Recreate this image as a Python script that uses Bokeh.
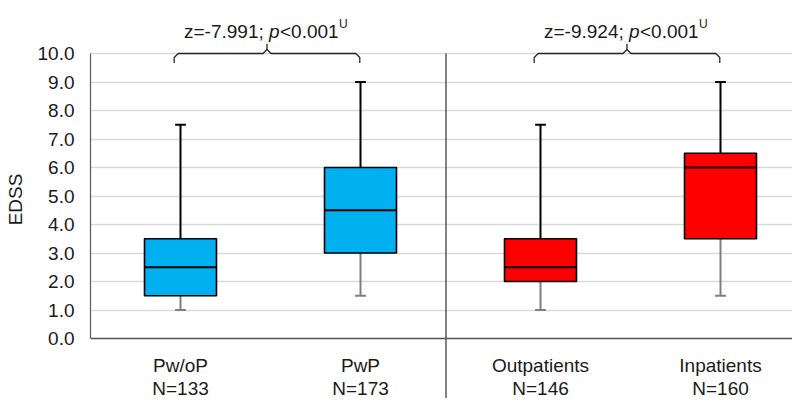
from bokeh.plotting import figure
from bokeh.models import Range1d, FixedTicker, NumeralTickFormatter, Span, ColumnDataSource
from bokeh.core.properties import value
from bokeh.embed import file_html
from bokeh.resources import INLINE

# ---------------- data ----------------
groups = ["Pw/oP", "PwP", "Outpatients", "Inpatients"]
n_labels = ["N=133", "N=173", "N=146", "N=160"]
mins = [1.0, 1.5, 1.0, 1.5]
q1 = [1.5, 3.0, 2.0, 3.5]
medians = [2.5, 4.5, 2.5, 6.0]
q3 = [3.5, 6.0, 3.5, 6.5]
maxs = [7.5, 9.0, 7.5, 9.0]
box_colors = ["#00B0F0", "#00B0F0", "#FF0000", "#FF0000"]
z_texts = ["z=-7.991; ", "z=-9.924; "]
p_letter = "p"
p_values = ["<0.001", "<0.001"]
test_marks = ["U", "U"]
pairs = [(0, 1), (2, 3)]
y_ticks = [0, 1, 2, 3, 4, 5, 6, 7, 8, 9, 10]
y_label = "EDSS"

FONT = "Liberation Sans"
FS = "19px"
TXT = "#1a1a1a"

xs = [i + 1 for i in range(len(groups))]

PXY = 28.5  # px per y unit (style)
p = figure(width=792, height=398, output_backend="svg", toolbar_location=None,
           x_range=Range1d(0.5, 4.4), y_range=Range1d(-(398 - 338) / PXY, 10 + 53 / PXY),
           min_border_left=90, min_border_right=0, min_border_top=0, min_border_bottom=0,
           x_axis_type=None)
p.outline_line_color = None
p.background_fill_color = "white"
p.border_fill_color = "white"

# y axis
ya = p.yaxis[0]
ya.ticker = FixedTicker(ticks=y_ticks)
ya.formatter = NumeralTickFormatter(format="0.0")
ya.bounds = (min(y_ticks), max(y_ticks))
ya.axis_line_color = "#595959"
ya.axis_line_width = 1.2
ya.major_tick_line_color = None
ya.minor_tick_line_color = None
ya.major_tick_out = 0
ya.major_tick_in = 0
ya.major_label_standoff = 16
ya.major_label_text_font = FONT
ya.major_label_text_font_size = FS
ya.major_label_text_color = TXT
ya.axis_label = y_label
ya.axis_label_text_font = FONT
ya.axis_label_text_font_size = FS
ya.axis_label_text_font_style = "normal"
ya.axis_label_text_color = TXT
ya.axis_label_standoff = 9

p.xgrid.visible = False
p.ygrid.grid_line_color = "#d9d9d9"
p.ygrid.grid_line_width = 1.6

# baseline at y=0
p.add_layout(Span(location=0, dimension="width", line_color="#595959", line_width=1.5))

# separator between the two comparisons
sep_x = (xs[1] + xs[2]) / 2 - 0.025
p.segment(x0=[sep_x], x1=[sep_x], y0=[max(y_ticks)], y1=[-5], line_color="#404040", line_width=1.3)

src = ColumnDataSource(dict(x=xs, mins=mins, q1=q1, med=medians, q3=q3, maxs=maxs,
                            color=box_colors,
                            cl=[x - 0.03 for x in xs], cr=[x + 0.03 for x in xs],
                            bl=[x - 0.2 for x in xs], br=[x + 0.2 for x in xs]))

# whiskers
p.segment(x0="x", x1="x", y0="q3", y1="maxs", source=src, line_color="black", line_width=2)
p.segment(x0="cl", x1="cr", y0="maxs", y1="maxs", source=src, line_color="black", line_width=2)
p.segment(x0="x", x1="x", y0="mins", y1="q1", source=src, line_color="#7f7f7f", line_width=2)
p.segment(x0="cl", x1="cr", y0="mins", y1="mins", source=src, line_color="#7f7f7f", line_width=2)

# boxes
p.vbar(x="x", width=0.4, bottom="q1", top="q3", source=src, fill_color="color",
       line_color="black", line_width=1.6)
p.segment(x0="bl", x1="br", y0="med", y1="med", source=src, line_color="black", line_width=1.8)

# category and N labels (placed below the y=0 baseline, offsets in screen px)
p.text(x=xs, y=[0] * len(xs), y_offset=27, text=groups, text_align="center", text_baseline="alphabetic",
       text_font=value(FONT), text_font_size=FS, text_color=TXT)
p.text(x=xs, y=[0] * len(xs), y_offset=50, text=n_labels, text_align="center", text_baseline="alphabetic",
       text_font=value(FONT), text_font_size=FS, text_color=TXT)

# curly brackets with test statistics
ux = 1 / 180.0  # data units per px (x)
uy = 1 / PXY    # data units per px (y)
top = max(y_ticks)
for k, (a, b) in enumerate(pairs):
    xl = xs[a] - 0.035
    xr = xs[b] - 0.004
    xc = (xl + xr) / 2
    pts_x, pts_y = [], []
    pts_x += [xl, xl]
    pts_y += [top - 9.6 * uy, top - 4 * uy]
    for t in [0.25, 0.5, 0.75, 1.0]:
        pts_x.append(xl + 4 * ux * (1 - (1 - t) ** 2))
        pts_y.append(top - 4 * uy * (1 - t) ** 2)
    pts_x.append(xc - 4 * ux)
    pts_y.append(top)
    for t in [0.25, 0.5, 0.75, 1.0]:
        pts_x.append(xc - 4 * ux * (1 - t) ** 2)
        pts_y.append(top + 4 * uy * (1 - (1 - t) ** 2))
    pts_x.append(xc)
    pts_y.append(top + 9.7 * uy)
    left_x = list(pts_x)
    left_y = list(pts_y)
    rx = [xc + (xc - x) for x in reversed(left_x[:-1])]
    ry = list(reversed(left_y[:-1]))
    rx = [xc + (x - xc) * (xr - xc) / (xc - xl) for x in rx]
    p.line(x=left_x + [xc] + rx, y=left_y + [top + 9.7 * uy] + ry, line_color="#262626", line_width=1.3)

    ty = top
    yo = -22.5
    start = -83
    p.text(x=[xc], y=[ty], y_offset=yo, text=[z_texts[k]], x_offset=start, text_align="left",
           text_baseline="alphabetic", text_font=value(FONT), text_font_size=FS, text_color=TXT)
    p.text(x=[xc], y=[ty], y_offset=yo, text=[p_letter], x_offset=start + 85, text_align="left",
           text_baseline="alphabetic", text_font=value(FONT), text_font_size=FS,
           text_font_style="italic", text_color=TXT)
    p.text(x=[xc], y=[ty], y_offset=yo, text=[p_values[k]], x_offset=start + 96, text_align="left",
           text_baseline="alphabetic", text_font=value(FONT), text_font_size=FS, text_color=TXT)
    p.text(x=[xc], y=[ty], text=[test_marks[k]], x_offset=start + 155, y_offset=yo - 7, text_align="left",
           text_baseline="alphabetic", text_font=value(FONT), text_font_size="12px", text_color=TXT)

open("out.html", "w").write(file_html(p, INLINE))
